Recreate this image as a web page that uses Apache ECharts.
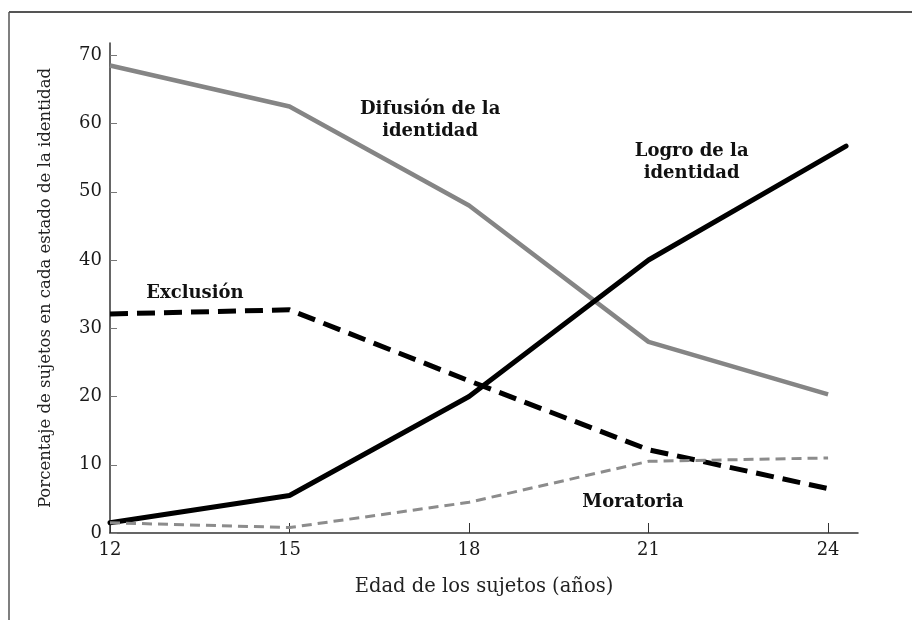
<!DOCTYPE html>
<html>
<head>
<meta charset="utf-8">
<title>Estados de identidad por edad</title>
<script src="https://cdn.jsdelivr.net/npm/echarts@6/dist/echarts.min.js"></script>
<style>
  html, body { margin: 0; padding: 0; background: #fff; }
  #chart { width: 912px; height: 620px; }
</style>
</head>
<body>
<div id="chart"></div>
<script>
  // edades (eje x) y valores
  const ages = [12, 15, 18, 21, 24]
  const logroAges = [12, 15, 18, 21, 24.3]
  const difusion = [68.5, 62.5, 48, 28, 20.3]
  const logro = [1.5, 5.5, 20, 40, 56.7]
  const exclusion = [32.1, 32.7, 22.3, 12.2, 6.5]
  const moratoria = [1.5, 0.8, 4.5, 10.5, 11]
  const xTicks = [12, 15, 18, 21, 24]
  const yTicks = [0, 10, 20, 30, 40, 50, 60, 70]

  // etiquetas de las curvas: [x, y, texto]
  const notes = [
    [17.35, 60.5, 'Difusión de la\nidentidad'],
    [21.72, 54.3, 'Logro de la\nidentidad'],
    [13.42, 35.1, 'Exclusión'],
    [20.74, 4.5, 'Moratoria']
  ]

  const serif = '"DejaVu Serif", "Liberation Serif", serif'
  const pairs = (xs, ys) => xs.map((x, i) => [x, ys[i]])

  const chart = echarts.init(document.getElementById('chart'))
  chart.setOption({
    animation: false,
    backgroundColor: '#fff',
    grid: { left: 110, top: 43, width: 748, height: 490 },
    graphic: [
      { type: 'line', shape: { x1: 9, y1: 12, x2: 912, y2: 12 }, style: { stroke: '#555', lineWidth: 2 } },
      { type: 'line', shape: { x1: 9, y1: 12, x2: 9, y2: 620 }, style: { stroke: '#555', lineWidth: 1.5 } }
    ],
    xAxis: {
      type: 'value',
      min: 12,
      max: 24.5,
      name: 'Edad de los sujetos (años)',
      nameLocation: 'middle',
      nameGap: 44,
      nameTextStyle: { fontFamily: serif, fontSize: 19.5, color: '#222' },
      axisLine: { lineStyle: { color: '#333', width: 1.5 } },
      axisTick: { inside: true, length: 10, customValues: xTicks, lineStyle: { color: '#333' } },
      axisLabel: { customValues: xTicks, margin: 8, fontFamily: serif, fontSize: 18, color: '#1a1a1a' },
      splitLine: { show: false }
    },
    yAxis: {
      type: 'value',
      min: 0,
      max: 71.8,
      name: 'Porcentaje de sujetos en cada estado de la identidad',
      nameLocation: 'middle',
      nameGap: 56,
      nameTextStyle: { fontFamily: serif, fontSize: 16.5, color: '#222' },
      axisLine: { show: true, lineStyle: { color: '#333', width: 1.5 } },
      axisTick: { show: true, inside: true, length: 7, customValues: yTicks, lineStyle: { color: '#777' } },
      axisLabel: { customValues: yTicks, margin: 8, fontFamily: serif, fontSize: 18, color: '#1a1a1a' },
      splitLine: { show: false }
    },
    series: [
      {
        name: 'Difusión de la identidad',
        type: 'line',
        data: pairs(ages, difusion),
        symbol: 'none',
        lineStyle: { color: '#858585', width: 4.5 }
      },
      {
        name: 'Logro de la identidad',
        type: 'line',
        data: pairs(logroAges, logro),
        symbol: 'none',
        lineStyle: { color: '#000', width: 5, cap: 'round' }
      },
      {
        name: 'Exclusión',
        type: 'line',
        data: pairs(ages, exclusion),
        symbol: 'none',
        lineStyle: { color: '#000', width: 5, type: [18, 9] }
      },
      {
        name: 'Moratoria',
        type: 'line',
        data: pairs(ages, moratoria),
        symbol: 'none',
        lineStyle: { color: '#8c8c8c', width: 3, type: [10, 6] }
      },
      {
        name: 'notas',
        type: 'scatter',
        data: notes,
        symbolSize: 1,
        itemStyle: { color: 'rgba(0,0,0,0)', opacity: 1 },
        silent: true,
        label: {
          show: true,
          position: 'inside',
          formatter: p => p.data[2],
          fontFamily: serif,
          fontWeight: 'bold',
          fontSize: 18,
          lineHeight: 22,
          color: '#111',
          textBorderWidth: 0,
          align: 'center'
        }
      }
    ]
  })
</script>
</body>
</html>
